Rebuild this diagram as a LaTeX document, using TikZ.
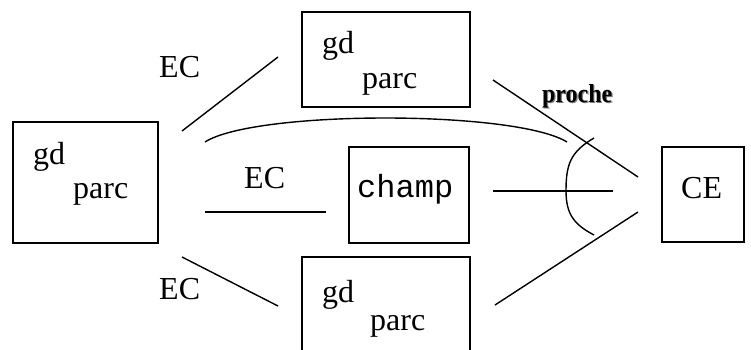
\documentclass[tikz,border=0pt]{standalone}
\usepackage{fontspec}
\setmainfont{Liberation Serif}
\setmonofont{Liberation Mono}
\begin{document}
\begin{tikzpicture}[x=1pt,y=-1pt,
  box/.style={draw,line width=1.7pt,inner sep=0pt,minimum width=#1},
  conn/.style={line width=1.4pt},
  lbl/.style={anchor=base west,inner sep=0pt,font=\fontsize{32}{38}\selectfont},
  mono/.style={anchor=base west,inner sep=0pt,font=\fontsize{32}{38}\selectfont\ttfamily},
  pro/.style={anchor=base west,inner sep=0pt,font=\fontsize{26}{30}\selectfont\bfseries,xscale=0.92}]
\useasboundingbox (0,0) rectangle (751,349);
\clip (0,0) rectangle (751,349);
% boxes
\node[box=145pt,minimum height=121pt] (L) at (85.5,182.5) {};
\node[box=168pt,minimum height=95pt] (T) at (386,59.5) {};
\node[box=120pt,minimum height=96pt] (C) at (409,195) {};
\node[box=168pt,minimum height=95pt] (B) at (386,304.5) {};
\node[box=82pt,minimum height=95pt] (E) at (703,194.5) {};
% texts
\node[lbl] (Lgd) at (33,164) {gd};
\node[lbl] (Lparc) at (73,198) {parc};
\node[lbl] (Tgd) at (322,53) {gd};
\node[lbl] (Tparc) at (362,88) {parc};
\node[lbl] (Bgd) at (322,302) {gd};
\node[lbl] (Bparc) at (370,330) {parc};
\node[mono] (Ct) at (357,197) {champ};
\node[lbl] (Et) at (681,198) {CE};
\node[lbl] (EC1) at (159,77) {EC};
\node[lbl] (EC2) at (244,188) {EC};
\node[lbl] (EC3) at (159,299) {EC};
\node[pro,text=black!50] (Ps) at (543.2,103.2) {proche};
\node[pro] (P) at (542,102) {proche};
% connector end points
\coordinate (a1) at (182,131); \coordinate (a2) at (278,57);
\coordinate (b1) at (205,212); \coordinate (b2) at (326,212);
\coordinate (c1) at (182,257); \coordinate (c2) at (278,306);
\coordinate (d1) at (493,80);  \coordinate (d2) at (638,177);
\coordinate (e1) at (493,191); \coordinate (e2) at (613,191);
\coordinate (f1) at (495,305); \coordinate (f2) at (638,212);
\coordinate (g1) at (205,142); \coordinate (g2) at (567,142);
\coordinate (h1) at (594,138); \coordinate (hm) at (566,191); \coordinate (h2) at (594,235);
\draw[conn] (a1) -- (a2);
\draw[conn] (b1) -- (b2);
\draw[conn] (c1) -- (c2);
\draw[conn] (d1) -- (d2);
\draw[conn] (e1) -- (e2);
\draw[conn] (f1) -- (f2);
\draw[conn] (g1) .. controls (255,110) and (515,110) .. (g2);
\draw[conn] (h1) .. controls (570,152) and (566,165) .. (hm) .. controls (566,215) and (575,225) .. (h2);
\end{tikzpicture}
\end{document}
